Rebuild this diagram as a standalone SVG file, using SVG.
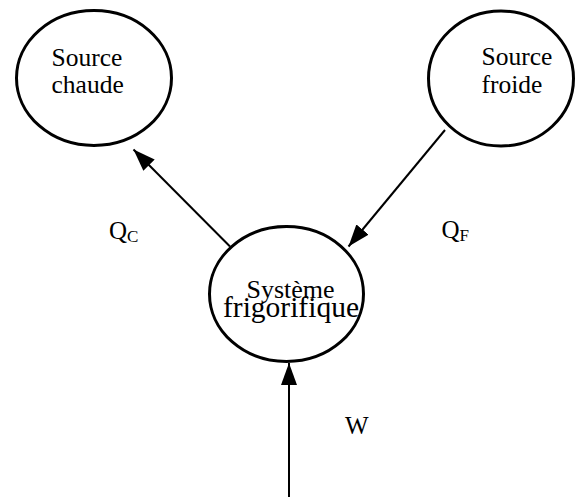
<svg xmlns="http://www.w3.org/2000/svg" width="576" height="497" viewBox="0 0 576 497">
<style>
.node{fill:none;stroke:#000;stroke-width:3}
.t{font-family:"Liberation Serif","Times New Roman",serif;fill:#000}
.edge{stroke:#000;stroke-width:2;fill:none}
</style>
<defs>
<marker id="ah" viewBox="0 0 22 16" refX="22" refY="8" markerWidth="22" markerHeight="16" markerUnits="userSpaceOnUse" orient="auto">
<path d="M0,0 L22,8 L0,16 z" fill="#000"/>
</marker>
</defs>
<rect width="576" height="497" fill="#fff"/>
<g id="source-chaude">
<ellipse class="node" cx="94" cy="78" rx="77.5" ry="67.5"/>
<text class="t" x="51.5" y="65.5" font-size="25.5">Source</text>
<text class="t" x="51.5" y="93" font-size="25.5">chaude</text>
</g>
<g id="source-froide">
<ellipse class="node" cx="501" cy="78.5" rx="72.5" ry="67.5"/>
<text class="t" x="481.5" y="65" font-size="25.5">Source</text>
<text class="t" x="481.5" y="93" font-size="25.5">froide</text>
</g>
<g id="systeme">
<ellipse class="node" cx="286.5" cy="294" rx="77" ry="67.5"/>
<text class="t" x="246.5" y="298" font-size="26">Système</text>
<text class="t" x="223" y="316.5" font-size="29.5">frigorifique</text>
</g>
<g id="connectors">
<line class="edge" x1="230" y1="246.5" x2="133.5" y2="149.5" marker-end="url(#ah)"/>
<line class="edge" x1="445" y1="130" x2="348.5" y2="246.5" marker-end="url(#ah)"/>
<line class="edge" x1="289" y1="497" x2="289" y2="363" marker-end="url(#ah)"/>
</g>
<g id="labels">
<text class="t" x="109" y="238.5" font-size="25">Q<tspan font-size="17" dy="3">C</tspan></text>
<text class="t" x="441.5" y="238" font-size="25">Q<tspan font-size="17" dy="3">F</tspan></text>
<text class="t" x="345" y="434" font-size="25">W</text>
</g>
</svg>
